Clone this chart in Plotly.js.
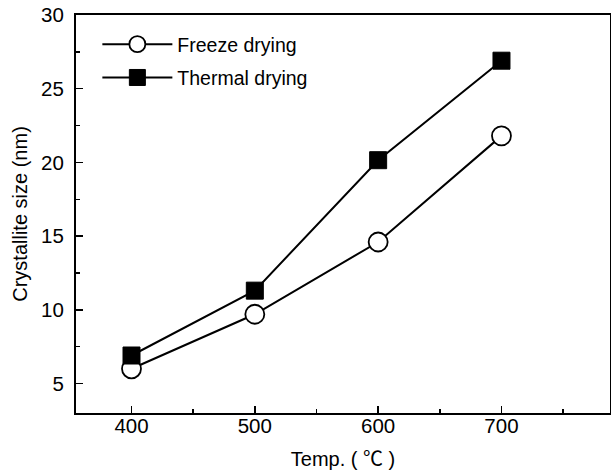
<!DOCTYPE html>
<html>
<head>
<meta charset="utf-8">
<script src="https://cdn.plot.ly/plotly-3.0.1.min.js"></script>
<style>html,body{margin:0;padding:0;background:#fff;}#chart{width:611px;height:474px;}</style>
</head>
<body>
<div id="chart"></div>
<script>
const temps = [400, 500, 600, 700];
const freezeDrying = [6.0, 9.7, 14.6, 21.8];
const thermalDrying = [6.9, 11.3, 20.15, 26.9];
const seriesNames = ["Freeze drying", "Thermal drying"];
const xTitle = "Temp. ( ℃ )";
const yTitle = "Crystallite size (nm)";

const fontFam = "Liberation Sans, Arial, Noto Sans CJK SC, sans-serif";

const traces = [
  {
    x: temps, y: freezeDrying, name: seriesNames[0], legendgroup: "a",
    mode: "lines+markers", type: "scatter",
    line: {color: "#000", width: 2},
    marker: {symbol: "circle", size: 19, color: "#fff", line: {color: "#000", width: 1.8}}
  },
  {
    x: temps, y: thermalDrying, name: seriesNames[1], legendgroup: "b",
    mode: "lines+markers", type: "scatter",
    line: {color: "#000", width: 2},
    marker: {symbol: "square", size: 17, color: "#000", line: {color: "#000", width: 1}}
  }
];

const layout = {
  width: 611, height: 474,
  margin: {l: 76, r: 1, t: 15, b: 61},
  paper_bgcolor: "#fff", plot_bgcolor: "#fff",
  font: {family: fontFam, color: "#000", size: 20},
  showlegend: true,
  legend: {
    x: 0.04, y: 0.975, xanchor: "left", yanchor: "top",
    bgcolor: "rgba(0,0,0,0)", borderwidth: 0,
    font: {family: fontFam, size: 19.5, color: "#000"},
    traceorder: "grouped", tracegroupgap: 5, itemwidth: 70
  },
  xaxis: {
    range: [355, 788],
    tick0: 0, dtick: 100,
    ticks: "inside", ticklen: 7, tickwidth: 1.5, tickcolor: "#000",
    minor: {ticks: "inside", ticklen: 4, tickwidth: 1.5, tickcolor: "#000", dtick: 50, tick0: 0},
    showline: true, linewidth: 2, linecolor: "#000", mirror: true,
    showgrid: false, zeroline: false,
    tickfont: {family: fontFam, size: 20.5},
    ticklabelstandoff: -7,
    title: {text: xTitle, font: {family: fontFam, size: 20}, standoff: 16}
  },
  yaxis: {
    range: [3, 30],
    tick0: 0, dtick: 5,
    ticks: "inside", ticklen: 7, tickwidth: 1.5, tickcolor: "#000",
    minor: {ticks: "inside", ticklen: 4, tickwidth: 1.5, tickcolor: "#000", dtick: 2.5, tick0: 0},
    showline: true, linewidth: 2, linecolor: "#000", mirror: true,
    showgrid: false, zeroline: false,
    tickfont: {family: fontFam, size: 20.5},
    ticklabelstandoff: 6,
    title: {text: yTitle, font: {family: fontFam, size: 20}, standoff: 8}
  }
};

Plotly.newPlot("chart", traces, layout, {displayModeBar: false, staticPlot: true});
</script>
</body>
</html>
